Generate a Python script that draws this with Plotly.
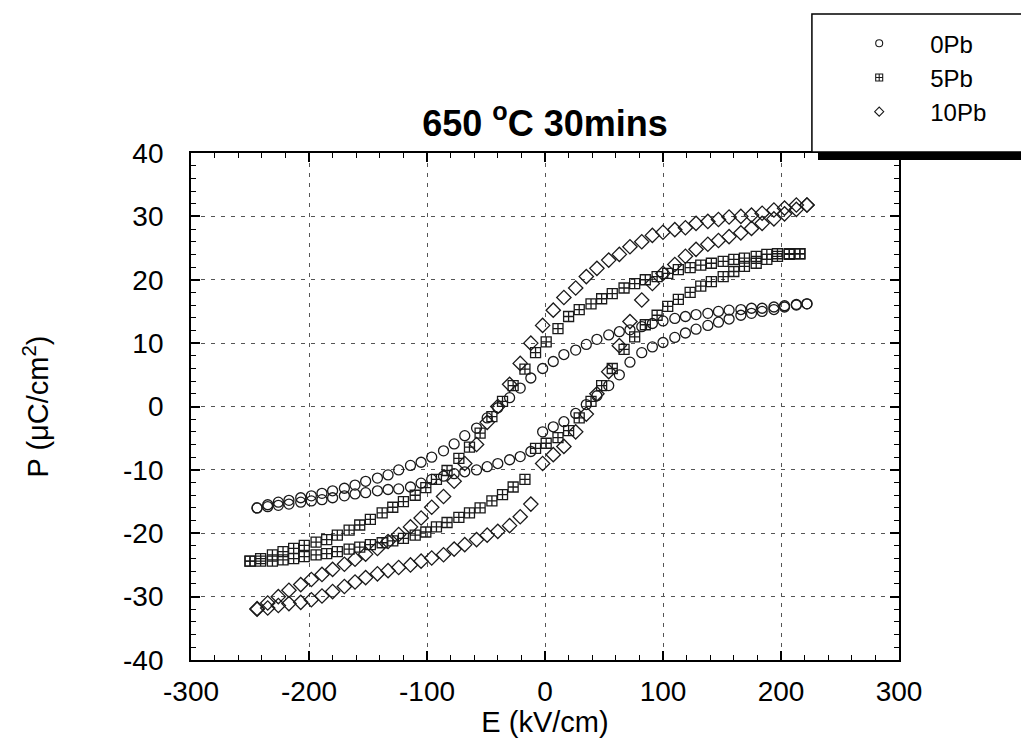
import plotly.graph_objects as go

# ---------------- data ----------------
# E grid (kV/cm), descending, used by 0Pb and 10Pb
E_desc_a = [222, 213, 203, 194, 184, 175, 166, 156, 147, 138,
            128, 119, 110, 100, 91, 82, 72, 63, 54, 44,
            35, 26, 16, 7, -2, -12, -21, -30, -40, -49,
            -58, -68, -77, -86, -96, -105, -114, -124, -133, -142,
            -152, -161, -170, -180, -189, -198, -207, -217, -226, -235,
            -244]
# E grid (kV/cm), descending, used by 5Pb
E_desc_b = [216, 207, 197, 188, 179, 169, 160, 151, 141, 132,
            123, 113, 104, 95, 85, 76, 67, 57, 48, 39,
            29, 20, 11, 1, -8, -17, -27, -36, -45, -55,
            -64, -73, -83, -92, -101, -110, -120, -129, -138, -148,
            -157, -166, -176, -185, -194, -204, -213, -222, -231, -241,
            -250]

# 0Pb: descending branch (on E_desc_a) and ascending branch (on reversed E_desc_a)
P0_down = [16.2, 16.1, 15.9, 15.7, 15.5, 15.5, 15.3, 15.2, 15.0, 14.7,
           14.5, 14.2, 13.9, 13.5, 13.1, 12.6, 12.1, 11.8, 11.3, 10.6,
           9.8, 8.9, 8.2, 7.1, 6.0, 4.5, 2.9, 1.4, -0.2, -1.8,
           -3.4, -4.6, -5.9, -7.0, -8.0, -8.8, -9.3, -10.0, -10.8, -11.3,
           -11.8, -12.4, -12.9, -13.3, -13.7, -14.1, -14.4, -14.8, -15.1, -15.5,
           -16.0]
P0_up = [-16.0, -15.8, -15.6, -15.4, -15.1, -14.9, -14.7, -14.4, -14.1, -13.8,
         -13.6, -13.3, -13.1, -13.0, -12.7, -12.1, -11.5, -11.0, -10.6, -10.3,
         -10.0, -9.5, -9.0, -8.4, -7.9, -7.1, -4.0, -3.2, -2.4, -1.1,
         0.3, 1.7, 3.3, 5.0, 7.0, 8.5, 9.4, 10.1, 10.9, 11.6,
         12.2, 12.8, 13.3, 13.8, 14.4, 14.7, 15.0, 15.3, 15.7, 16.0,
         16.2]

# 5Pb: descending branch (on E_desc_b) and ascending branch (on reversed E_desc_b)
P5_down = [24.1, 24.1, 24.1, 24.0, 23.7, 23.4, 23.2, 22.9, 22.6, 22.3,
           21.9, 21.6, 21.0, 20.5, 20.0, 19.4, 18.7, 17.8, 17.0, 16.2,
           15.3, 14.2, 12.3, 10.2, 8.5, 5.9, 3.3, 0.8, -1.6, -4.2,
           -6.4, -8.2, -10.1, -11.5, -12.8, -14.0, -15.0, -15.9, -16.8, -17.8,
           -18.7, -19.5, -20.3, -21.0, -21.4, -21.9, -22.4, -22.9, -23.4, -24.0,
           -24.4]
P5_up = [-24.4, -24.4, -24.4, -24.2, -24.0, -23.7, -23.4, -23.2, -22.9, -22.5,
         -22.2, -21.8, -21.5, -21.2, -20.8, -20.3, -19.8, -19.0, -18.3, -17.5,
         -16.8, -16.0, -14.9, -13.9, -12.7, -11.5, -6.6, -5.8, -4.9, -3.8,
         -1.8, 0.8, 3.3, 6.0, 9.0, 11.0, 12.9, 14.4, 15.8, 16.9,
         18.0, 19.0, 19.7, 20.5, 21.3, 22.1, 22.6, 23.2, 23.7, 24.0,
         24.1]

# 10Pb: descending branch (on E_desc_a) and ascending branch (on reversed E_desc_a)
P10_down = [31.8, 31.8, 31.3, 31.0, 30.5, 30.2, 30.0, 29.9, 29.5, 29.2,
            28.9, 28.2, 27.9, 27.5, 27.0, 26.0, 25.2, 24.0, 23.1, 21.8,
            20.5, 18.7, 17.2, 15.2, 12.8, 10.0, 6.8, 3.5, 0.0, -2.5,
            -6.0, -9.0, -11.8, -14.2, -15.9, -17.6, -19.0, -20.2, -21.3, -22.4,
            -23.3, -24.1, -24.9, -25.7, -26.5, -27.3, -28.1, -29.0, -30.0, -31.0,
            -31.9]
P10_up = [-32.0, -31.8, -31.4, -31.1, -30.9, -30.5, -29.9, -29.2, -28.4, -27.7,
          -27.0, -26.4, -25.9, -25.4, -25.0, -24.4, -23.9, -23.4, -22.5, -21.8,
          -21.0, -20.3, -19.7, -18.8, -17.4, -15.4, -9.0, -7.6, -6.3, -4.0,
          -1.2, 2.0, 5.5, 9.6, 13.4, 16.8, 19.4, 21.0, 22.4, 23.7,
          24.8, 25.6, 26.2, 26.8, 27.4, 28.1, 28.9, 29.6, 30.4, 31.1,
          31.8]

series_names = ["0Pb", "5Pb", "10Pb"]
x_ticks = [-300, -200, -100, 0, 100, 200, 300]
y_ticks = [-40, -30, -20, -10, 0, 10, 20, 30, 40]

# ---------------- figure ----------------
FONT = "Arial, Liberation Sans, sans-serif"
INK = "#1a1a1a"

loops = [
    (E_desc_a + E_desc_a[::-1], P0_down + P0_up, "circle-open", 10),
    (E_desc_b + E_desc_b[::-1], P5_down + P5_up, "square-cross-open", 10),
    (E_desc_a + E_desc_a[::-1], P10_down + P10_up, "diamond-open", 11),
]

fig = go.Figure()
for name, (ex, py, sym, sz) in zip(series_names, loops):
    fig.add_trace(go.Scatter(
        x=ex, y=py, mode="markers", name=name, legendgroup=name, showlegend=False,
        marker=dict(symbol=sym, size=sz, color=INK, line=dict(width=1.3, color=INK)),
    ))
# legend entries (smaller symbols, as in the reference legend)
for name, (_, _, sym, sz) in zip(series_names, loops):
    fig.add_trace(go.Scatter(
        x=[None], y=[None], mode="markers", name=name, legendgroup=name, showlegend=True,
        marker=dict(symbol=sym, size=7, color=INK, line=dict(width=1.1, color=INK)),
    ))

axis_common = dict(
    showline=True, linecolor="black", linewidth=1.8, mirror="allticks",
    ticks="inside", ticklen=9, tickwidth=1.5, tickcolor="black",
    showgrid=True, gridcolor="#555555", gridwidth=1, griddash="4px,6px",
    zeroline=False,
    tickfont=dict(family=FONT, size=28, color="black"),
)

fig.update_xaxes(
    range=[-300, 300], tickmode="array", tickvals=x_ticks,
    ticktext=[str(v) for v in x_ticks],
    minor=dict(dtick=20, ticks="inside", ticklen=5, tickwidth=1.2, tickcolor="black", showgrid=False),
    ticklabelstandoff=5,
    title=dict(text="E (kV/cm)", font=dict(family=FONT, size=29, color="black"), standoff=0),
    **axis_common,
)
fig.update_yaxes(
    range=[-40, 40], tickmode="array", tickvals=y_ticks,
    ticktext=[str(v) for v in y_ticks],
    minor=dict(dtick=2, ticks="inside", ticklen=5, tickwidth=1.2, tickcolor="black", showgrid=False),
    ticklabelstandoff=20,
    title=dict(text="P (μC/cm<sup>2</sup>)", font=dict(family=FONT, size=29, color="black"), standoff=66),
    **axis_common,
)

# legend box with drop shadow
fig.add_shape(type="rect", xref="paper", yref="paper",
              x0=0.8856, x1=1.1836, y0=0.986, y1=1.262,
              fillcolor="black", line=dict(width=0), layer="above")
fig.add_shape(type="rect", xref="paper", yref="paper",
              x0=0.877, x1=1.1737, y0=1.002, y1=1.274,
              fillcolor="white", line=dict(width=1.5, color="black"), layer="above")

fig.update_layout(
    width=1021, height=736,
    margin=dict(l=183, r=130, t=145, b=84, autoexpand=False),
    paper_bgcolor="white", plot_bgcolor="white",
    title=dict(text="<b>650 <sup>o</sup>C 30mins</b>", x=0.5, xref="paper",
               y=1 - 115 / 736, yref="container", xanchor="center", yanchor="middle",
               font=dict(family=FONT, size=36, color="black")),
    legend=dict(x=0.900, y=1.260, xanchor="left", yanchor="top",
                bgcolor="rgba(0,0,0,0)", borderwidth=0,
                font=dict(family=FONT, size=24, color="black"),
                itemwidth=92, tracegroupgap=0),
    showlegend=True,
)

fig.write_html("out.html")
